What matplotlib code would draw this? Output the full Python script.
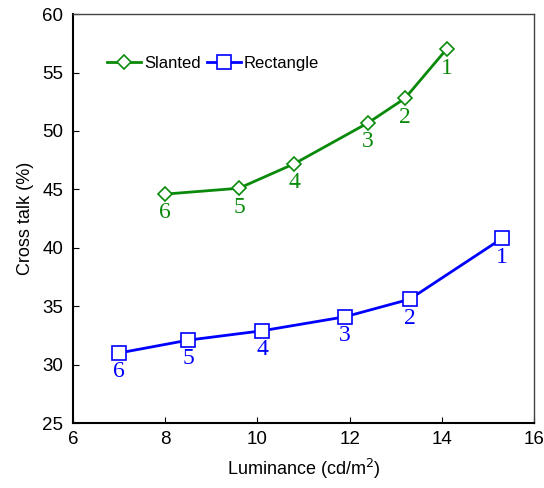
import matplotlib
matplotlib.use('Agg')
import matplotlib.pyplot as plt

plt.rcParams['font.family'] = ['Liberation Sans', 'DejaVu Sans']

# Slanted series
slant_x = [14.1, 13.2, 12.4, 10.8, 9.6, 8.0]
slant_y = [57.0, 52.8, 50.7, 47.2, 45.1, 44.6]
# Rectangle series
rect_x = [15.3, 13.3, 11.9, 10.1, 8.5, 7.0]
rect_y = [40.8, 35.6, 34.1, 32.9, 32.1, 31.0]
point_labels = ['1', '2', '3', '4', '5', '6']

green = '#0a8a0a'
blue = '#0000ff'

fig = plt.figure(figsize=(5.44, 4.88), dpi=100)
ax = fig.add_axes([0.134, 0.133, 0.848, 0.838])

ax.plot(slant_x, slant_y, '-D', color=green, lw=2, ms=7, mfc='white',
        mec=green, mew=1.2, label='Slanted')
ax.plot(rect_x, rect_y, '-s', color=blue, lw=2, ms=9.5, mfc='white',
        mec=blue, mew=1.2, label='Rectangle')

for x, y, t in zip(slant_x, slant_y, point_labels):
    ax.annotate(t, (x, y), xytext=(0, -6), textcoords='offset points',
                ha='center', va='top', color=green, fontsize=17,
                family='Liberation Serif')
for x, y, t in zip(rect_x, rect_y, point_labels):
    ax.annotate(t, (x, y), xytext=(0, -6), textcoords='offset points',
                ha='center', va='top', color=blue, fontsize=17,
                family='Liberation Serif')

ax.set_xlim(6, 16)
ax.set_ylim(25, 60)
ax.set_xticks([6, 8, 10, 12, 14, 16])
ax.set_yticks(range(25, 61, 5))
ax.tick_params(direction='in', labelsize=13.5, length=4, top=False, right=False)
ax.tick_params(axis='x', pad=6)
ax.tick_params(axis='y', pad=7)
ax.set_xlabel('Luminance (cd/m$^2$)', fontsize=13, labelpad=6)
ax.set_ylabel('Cross talk (%)', fontsize=13, labelpad=6)
for s in ['left', 'bottom']:
    ax.spines[s].set_linewidth(1.5)
for s in ['top', 'right']:
    ax.spines[s].set_linewidth(1.0)
    ax.spines[s].set_color('#444444')

ax.legend(loc='upper left', bbox_to_anchor=(0.06, 0.915), ncol=2, frameon=False,
          fontsize=12, handlelength=2.0, columnspacing=0.4, handletextpad=0.2,
          borderaxespad=0)

fig.savefig('out.png', dpi=100)
